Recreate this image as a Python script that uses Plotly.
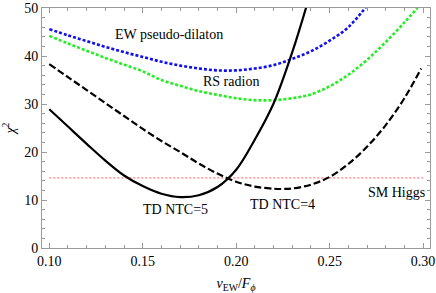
import plotly.graph_objects as go

# ---- data ----
x_ew = [0.10, 0.11, 0.12, 0.13, 0.14, 0.15, 0.16, 0.17, 0.18, 0.19, 0.20, 0.21, 0.22, 0.23, 0.24, 0.25, 0.26, 0.27]
y_ew = [45.6, 44.3, 43.1, 41.9, 40.8, 39.8, 38.8, 38.0, 37.4, 37.0, 37.0, 37.4, 38.1, 39.4, 41.0, 43.2, 46.0, 50.5]

x_rs = [0.10, 0.11, 0.12, 0.13, 0.14, 0.15, 0.16, 0.17, 0.18, 0.19, 0.20, 0.21, 0.22, 0.23, 0.24, 0.25, 0.26, 0.27, 0.28, 0.29, 0.297]
y_rs = [44.2, 42.6, 41.1, 39.6, 38.2, 36.8, 35.0, 33.8, 32.7, 31.9, 31.2, 30.8, 30.8, 31.2, 32.0, 33.7, 36.1, 39.2, 42.9, 47.0, 50.0]

x_n4 = [0.10, 0.11, 0.12, 0.13, 0.14, 0.15, 0.16, 0.17, 0.18, 0.19, 0.20, 0.21, 0.22, 0.225, 0.23, 0.24, 0.25, 0.26, 0.27, 0.28, 0.29, 0.299]
y_n4 = [38.3, 35.6, 32.9, 30.2, 27.5, 24.8, 22.3, 20.0, 17.6, 15.5, 13.8, 12.8, 12.35, 12.3, 12.4, 13.2, 14.8, 17.5, 21.1, 25.6, 31.2, 37.4]

x_n5 = [0.10, 0.11, 0.12, 0.13, 0.14, 0.15, 0.16, 0.17, 0.18, 0.19, 0.20, 0.21, 0.22, 0.23, 0.2375]
y_n5 = [28.9, 25.3, 21.7, 18.2, 15.1, 12.9, 11.3, 10.6, 11.0, 12.7, 16.3, 22.6, 30.1, 40.8, 50.2]

x_sm = [0.10, 0.30]
y_sm = [14.6, 14.6]

labels = ["EW pseudo-dilaton", "RS radion", "TD NTC=5", "TD NTC=4", "SM Higgs"]
label_x = [0.164, 0.197, 0.1674, 0.225, 0.286]
label_y = [44.4, 34.6, 8.1, 9.0, 11.5]

FONT = "Liberation Serif"

fig = go.Figure()
fig.add_trace(go.Scatter(x=x_sm, y=y_sm, mode="lines",
                         line=dict(color="#ff5a5a", width=1, dash="2px,2px")))
fig.add_trace(go.Scatter(x=x_ew, y=y_ew, mode="lines", line_shape="spline",
                         line=dict(color="#1010ee", width=2.6, dash="3px,2px")))
fig.add_trace(go.Scatter(x=x_rs, y=y_rs, mode="lines", line_shape="spline",
                         line=dict(color="#22ee22", width=2.6, dash="3px,2px")))
fig.add_trace(go.Scatter(x=x_n4, y=y_n4, mode="lines", line_shape="spline",
                         line=dict(color="black", width=2.2, dash="7px,3px")))
fig.add_trace(go.Scatter(x=x_n5, y=y_n5, mode="lines", line_shape="spline",
                         line=dict(color="black", width=2.2)))

for t, xx, yy in zip(labels, label_x, label_y):
    fig.add_annotation(x=xx, y=yy, text=t, showarrow=False,
                       font=dict(family=FONT, size=14, color="black"))

axis_common = dict(showgrid=False, zeroline=False, showline=True, linecolor="#999999",
                   linewidth=1, mirror="ticks", ticks="inside", tickcolor="#999999",
                   ticklen=5, automargin=False,
                   tickfont=dict(family=FONT, size=14, color="black"))

fig.update_xaxes(range=[0.0961, 0.3037], tickvals=[0.10, 0.15, 0.20, 0.25, 0.30],
                 ticktext=["0.10", "0.15", "0.20", "0.25", "0.30"],
                 minor=dict(ticks="inside", dtick=0.01, tick0=0.10, ticklen=3, tickcolor="#999999"),
                 title=dict(text="<i>v</i><sub>EW</sub>/<i>F</i><sub><i>ϕ</i></sub>",
                            font=dict(family=FONT, size=14, color="black"), standoff=12),
                 **axis_common)
fig.update_yaxes(range=[0, 50], tickvals=[0, 10, 20, 30, 40, 50],
                 minor=dict(ticks="inside", dtick=2, tick0=0, ticklen=3, tickcolor="#999999"),
                 title=dict(text="<i>χ</i><sup>2</sup>",
                            font=dict(family=FONT, size=14, color="black"), standoff=6),
                 **axis_common)

fig.update_layout(width=436, height=293, showlegend=False,
                  margin=dict(l=42, r=6, t=8, b=45),
                  plot_bgcolor="white", paper_bgcolor="white")

fig.write_html("out.html", config={"displayModeBar": False},
               post_script="document.body.style.margin='0px';document.body.style.padding='0px';")
